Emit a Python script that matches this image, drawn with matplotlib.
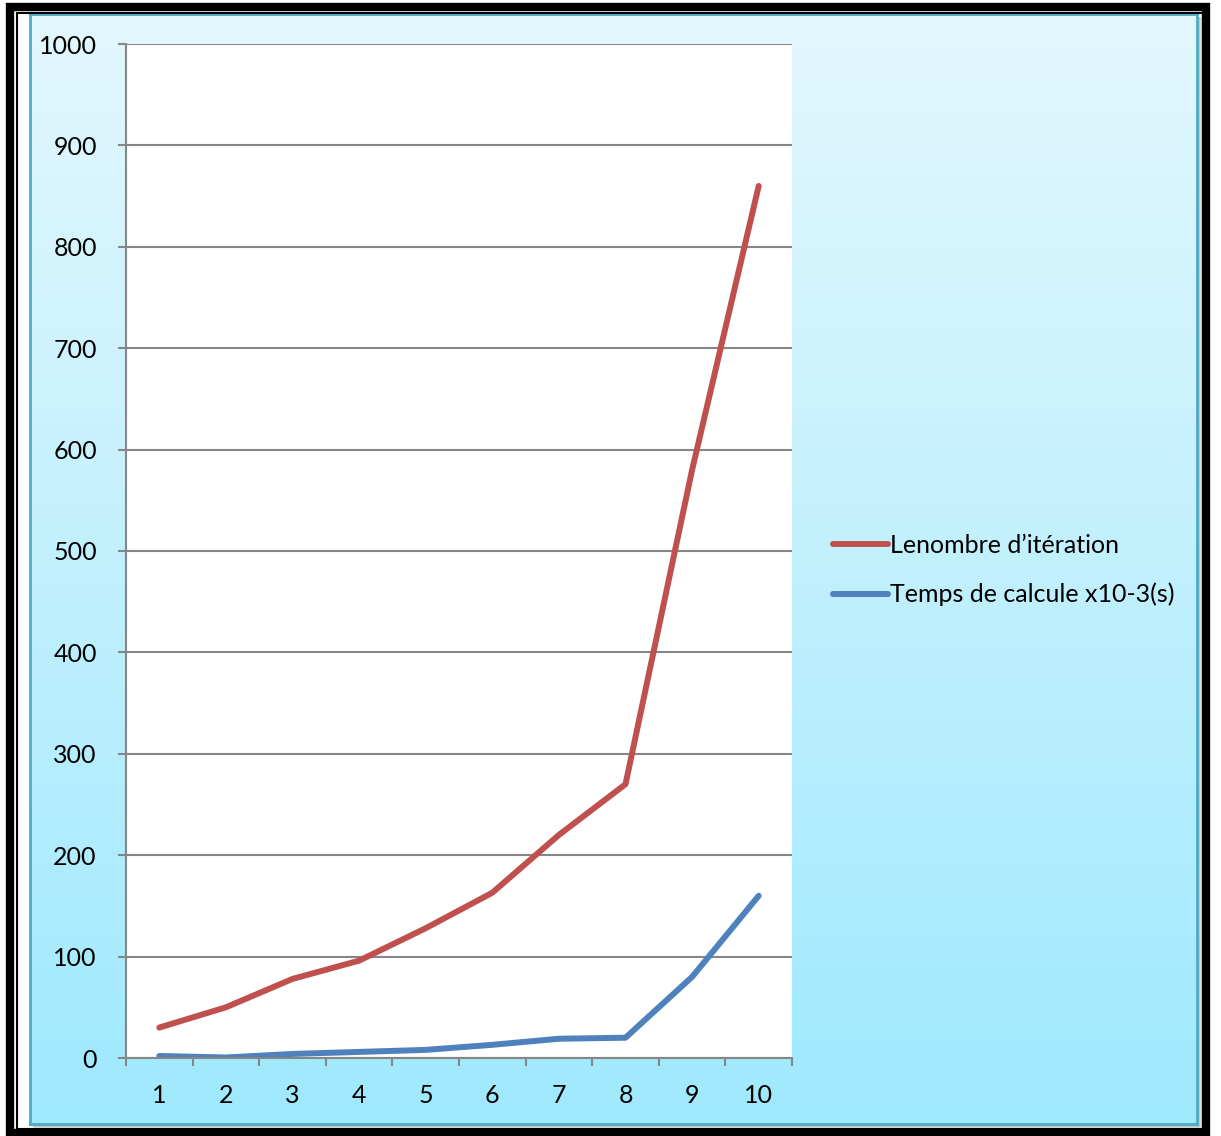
import matplotlib
matplotlib.use('Agg')
import matplotlib.pyplot as plt
import numpy as np
from matplotlib.patches import Rectangle

W, H = 1221, 1136
DPI = 100

categories = [1, 2, 3, 4, 5, 6, 7, 8, 9, 10]
iterations = [30, 50, 78, 96, 128, 163, 220, 270, 580, 860]
calc_time = [2, 0.5, 4, 6, 8, 13, 19, 20, 80, 160]
series_names = ['Lenombre d\u2019itération', 'Temps de calcule x10-3(s)']

plt.rcParams['font.family'] = ['Lato', 'DejaVu Sans']


def fx(px):
    return px / W


def fy(py):
    return 1 - py / H


fig = plt.figure(figsize=(W / DPI, H / DPI), dpi=DPI)
fig.patch.set_facecolor('white')

# double black frame around everything
fig.patches.append(Rectangle((fx(10), fy(1133)), fx(1206) - fx(10), fy(7) - fy(1133),
                             transform=fig.transFigure, fill=False, ec='black', lw=6))
fig.patches.append(Rectangle((fx(17), fy(1129)), fx(1203) - fx(17), fy(13) - fy(1129),
                             transform=fig.transFigure, fill=False, ec='black', lw=1.5))

# soft shadow under the chart panel
for i, a in enumerate([0.10, 0.07, 0.04, 0.02]):
    fig.patches.append(Rectangle((fx(32 + i), fy(1127 + i)), fx(1200 + i) - fx(32 + i),
                                 fy(17) - fy(1127 + i), transform=fig.transFigure,
                                 fc='black', ec='none', alpha=a, zorder=0))

# panel with vertical gradient
bg = fig.add_axes([fx(30), fy(1124), fx(1197) - fx(30), fy(14) - fy(1124)], zorder=1)
top = np.array([0xE3, 0xF7, 0xFD]) / 255
bot = np.array([0x9F, 0xE9, 0xFD]) / 255
t = np.linspace(0, 1, 256)[:, None]
grad = (top[None, :] * (1 - t) + bot[None, :] * t)[:, None, :]
bg.imshow(grad, aspect='auto', extent=[0, 1, 0, 1])
bg.set_xticks([])
bg.set_yticks([])
for s in bg.spines.values():
    s.set_color('#4BACC6')
    s.set_linewidth(2)

# plot area
ax = fig.add_axes([fx(126), fy(1058), fx(792) - fx(126), fy(44) - fy(1058)], zorder=2)
ax.set_facecolor('white')
x = np.arange(len(categories))
ax.plot(x, iterations, color='#C0504D', lw=4.3, solid_capstyle='round',
        solid_joinstyle='round', label=series_names[0])
ax.plot(x, calc_time, color='#4F81BD', lw=4.3, solid_capstyle='round',
        solid_joinstyle='round', label=series_names[1])

ax.set_xlim(-0.5, len(categories) - 0.5)
ax.set_ylim(0, 1000)
ax.set_yticks(np.arange(0, 1001, 100))
ax.yaxis.grid(True, color='#868686', lw=1.5)
ax.set_axisbelow(True)
ax.set_xticks(x)
ax.set_xticklabels([str(c) for c in categories])
ax.set_xticks(np.arange(-0.5, len(categories), 1), minor=True)
ax.tick_params(axis='x', which='major', length=0, pad=19, labelsize=18)
ax.tick_params(axis='x', which='minor', length=6, width=1.5, color='#868686', direction='out')
ax.tick_params(axis='y', length=6, width=1.5, color='#868686', direction='out', pad=15, labelsize=18)
for side in ['top', 'right']:
    ax.spines[side].set_visible(False)
for side in ['left', 'bottom']:
    ax.spines[side].set_color('#868686')
    ax.spines[side].set_linewidth(1.5)

leg = ax.legend(loc='center left', bbox_to_anchor=(fx(810), fy(570)),
                bbox_transform=fig.transFigure, frameon=False, fontsize=18,
                handlelength=2.2, handletextpad=0.1, labelspacing=1.05)
for line in leg.get_lines():
    line.set_solid_capstyle('round')

fig.savefig('out.png', dpi=DPI)
